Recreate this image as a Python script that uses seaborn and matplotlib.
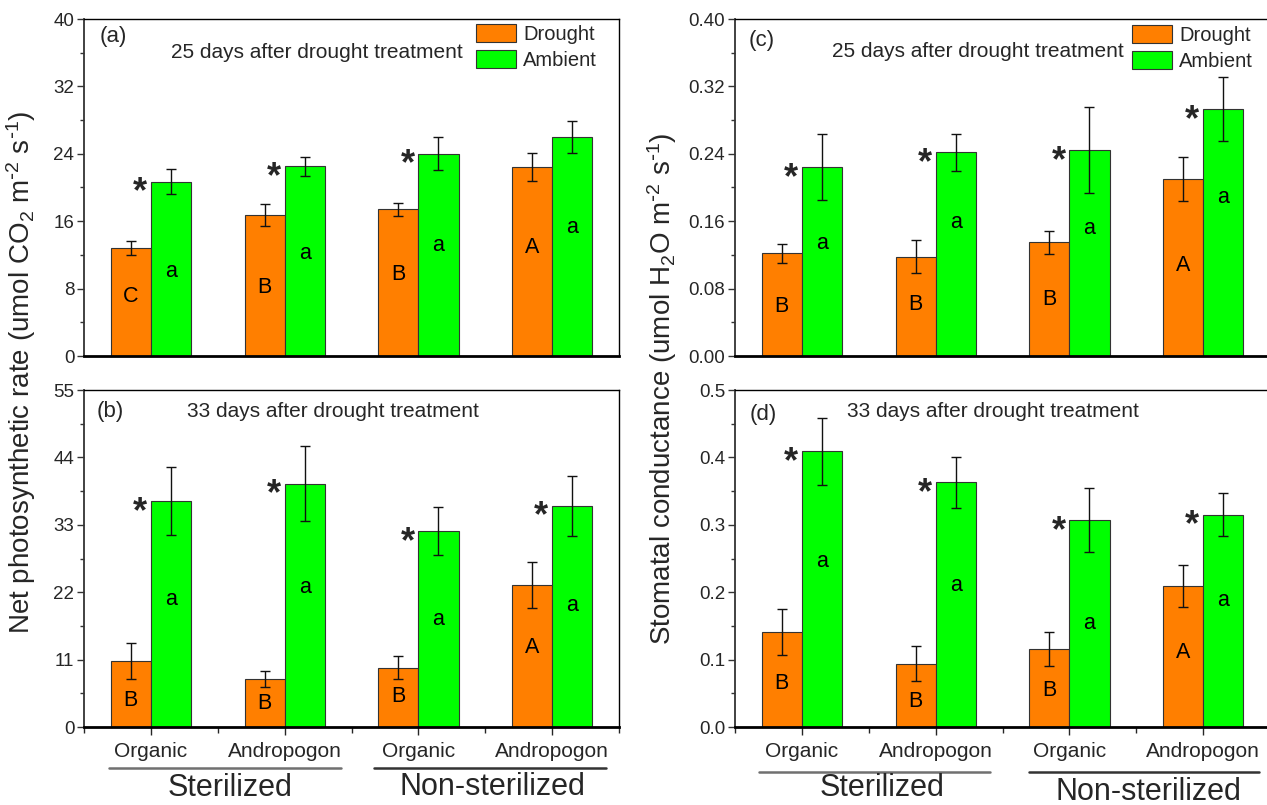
import numpy as np
import pandas as pd
import seaborn as sns
import matplotlib.pyplot as plt
from matplotlib.transforms import blended_transform_factory

# ---- data ----
groups = ["S-Organic", "S-Andropogon", "N-Organic", "N-Andropogon"]
tick_labels = ["Organic", "Andropogon", "Organic", "Andropogon"]
treatments = ["Drought", "Ambient"]

# (a) net photosynthetic rate, 25 days
a_drought = [12.8, 16.7, 17.4, 22.4]
a_drought_se = [0.85, 1.3, 0.8, 1.65]
a_ambient = [20.7, 22.5, 24.0, 26.0]
a_ambient_se = [1.5, 1.1, 1.95, 1.95]
a_letters = ["C", "B", "B", "A"]
a_stars = [True, True, True, False]

# (b) net photosynthetic rate, 33 days
b_drought = [10.8, 7.8, 9.7, 23.1]
b_drought_se = [2.9, 1.35, 1.85, 3.75]
b_ambient = [36.9, 39.7, 32.0, 36.1]
b_ambient_se = [5.5, 6.1, 3.9, 4.9]
b_letters = ["B", "B", "B", "A"]
b_stars = [True, True, True, True]

# (c) stomatal conductance, 25 days
c_drought = [0.122, 0.118, 0.135, 0.210]
c_drought_se = [0.0115, 0.020, 0.0135, 0.026]
c_ambient = [0.224, 0.242, 0.244, 0.293]
c_ambient_se = [0.039, 0.022, 0.051, 0.038]
c_letters = ["B", "B", "B", "A"]
c_stars = [True, True, True, True]

# (d) stomatal conductance, 33 days
d_drought = [0.141, 0.094, 0.116, 0.209]
d_drought_se = [0.0335, 0.026, 0.025, 0.031]
d_ambient = [0.409, 0.363, 0.307, 0.315]
d_ambient_se = [0.050, 0.038, 0.048, 0.032]
d_letters = ["B", "B", "B", "A"]
d_stars = [True, True, True, True]

# where the letters sit inside the bars (data units)
a_lab_y = ([7.1, 8.1, 9.7, 12.9], [10.0, 12.2, 13.1, 15.3])
b_lab_y = ([4.3, 3.8, 4.9, 12.9], [20.8, 22.7, 17.5, 19.9])
c_lab_y = ([0.059, 0.061, 0.067, 0.107], [0.134, 0.159, 0.151, 0.188])
d_lab_y = ([0.064, 0.038, 0.054, 0.110], [0.245, 0.210, 0.153, 0.187])

palette = {"Drought": "#FF7F00", "Ambient": "#00FF00"}

sns.set_theme(style="ticks")
plt.rcParams["font.family"] = ["Liberation Sans", "DejaVu Sans"]
plt.rcParams["mathtext.default"] = "regular"
plt.rcParams["axes.unicode_minus"] = False

fig = plt.figure(figsize=(12.67, 8.05), dpi=100)

LX, RX, W = 84 / 1267, 735 / 1267, 535 / 1267
TY, BY, H = 1 - 356 / 805, 1 - 727 / 805, 337 / 805


def panel(rect, drought, dse, ambient, ase, letters, stars, lab_y,
          ymax, ystep, fmt, tag, tag_pos, title, title_pos, bottom, legend_pos=None):
    ax = fig.add_axes(rect)
    df = pd.DataFrame({
        "group": groups * 2,
        "treatment": ["Drought"] * 4 + ["Ambient"] * 4,
        "value": list(drought) + list(ambient),
    })
    sns.barplot(data=df, x="group", y="value", hue="treatment", order=groups,
                hue_order=treatments, palette=palette, saturation=1, width=0.6,
                edgecolor="#333333", linewidth=0.8, errorbar=None,
                legend=legend_pos is not None, ax=ax)

    for cont, se in zip(ax.containers, [dse, ase]):
        xs = [b.get_x() + b.get_width() / 2 for b in cont]
        hs = [b.get_height() for b in cont]
        ax.errorbar(xs, hs, yerr=se, fmt="none", ecolor="#111111", elinewidth=1,
                    capsize=3.5, capthick=1, zorder=5)

    # letters inside bars
    for cont, labs, ys in zip(ax.containers, [letters, ["a"] * 4], lab_y):
        for b, lab, y in zip(cont, labs, ys):
            ax.text(b.get_x() + b.get_width() / 2, y, lab, ha="center",
                    va="center", fontsize=15.5, color="black")

    # significance stars
    for b, s in zip(ax.containers[1], stars):
        if s:
            ax.annotate("*", xy=(b.get_x() - 0.08, b.get_height()),
                        xytext=(0, -15), textcoords="offset points",
                        ha="center", va="baseline", fontsize=26, fontweight="bold")

    ax.set_xlim(-0.5, 3.5)
    ax.set_ylim(0, ymax)
    ticks = np.arange(0, ymax + ystep / 2, ystep)
    ax.set_yticks(ticks)
    ax.set_yticklabels([fmt.format(t) for t in ticks])
    ax.set_yticks(ticks[:-1] + ystep / 2, minor=True)
    ax.tick_params(axis="y", which="major", direction="out", length=5, width=1,
                   labelsize=13.5, pad=2, color="#333333")
    ax.tick_params(axis="y", which="minor", direction="out", length=3, width=1,
                   color="#333333")
    ax.set_xlabel("")
    ax.set_ylabel("")

    if bottom:
        ax.set_xticks(range(4))
        ax.set_xticklabels(tick_labels)
        ax.set_xticks(np.arange(-0.5, 4.0, 1.0), minor=True)
        ax.tick_params(axis="x", which="major", direction="out", length=6, width=1,
                       labelsize=15, pad=5)
        ax.tick_params(axis="x", which="minor", direction="out", length=4, width=1)
    else:
        ax.tick_params(axis="x", which="both", bottom=False, labelbottom=False)

    for side in ["top", "right"]:
        ax.spines[side].set_linewidth(1.0)
        ax.spines[side].set_color("black")
    ax.spines["left"].set_linewidth(1.3)
    ax.spines["left"].set_color("#333333")
    ax.spines["bottom"].set_linewidth(2.0)
    ax.spines["bottom"].set_color("black")

    ax.text(tag_pos[0], tag_pos[1], tag, transform=ax.transAxes, fontsize=16,
            ha="left", va="center")
    ax.text(title_pos[0], title_pos[1], title, transform=ax.transAxes,
            fontsize=15, ha="left", va="center")

    if legend_pos is not None:
        handles, labels = ax.get_legend_handles_labels()
        ax.legend(handles, labels, loc="upper left", bbox_to_anchor=legend_pos,
                  frameon=False, fontsize=14.5, borderpad=0, borderaxespad=0,
                  handlelength=2.0, handleheight=1.0, handletextpad=0.35,
                  labelspacing=0.28)
    return ax


ax_a = panel([LX, TY, W, H], a_drought, a_drought_se, a_ambient, a_ambient_se,
             a_letters, a_stars, a_lab_y, 40, 8, "{:.0f}", "(a)", (0.03, 0.949),
             "25 days after drought treatment", (0.163, 0.902), False,
             legend_pos=(0.732, 0.985))
ax_b = panel([LX, BY, W, H], b_drought, b_drought_se, b_ambient, b_ambient_se,
             b_letters, b_stars, b_lab_y, 55, 11, "{:.0f}", "(b)", (0.024, 0.935),
             "33 days after drought treatment", (0.193, 0.935), True)
ax_c = panel([RX, TY, W, H], c_drought, c_drought_se, c_ambient, c_ambient_se,
             c_letters, c_stars, c_lab_y, 0.40, 0.08, "{:.2f}", "(c)", (0.026, 0.935),
             "25 days after drought treatment", (0.181, 0.905), False,
             legend_pos=(0.742, 0.982))
ax_d = panel([RX, BY, W, H], d_drought, d_drought_se, d_ambient, d_ambient_se,
             d_letters, d_stars, d_lab_y, 0.5, 0.1, "{:.1f}", "(d)", (0.028, 0.926),
             "33 days after drought treatment", (0.209, 0.935), True)

# soil treatment brackets under the bottom panels
for ax, lines, texts in [
    (ax_b, [(-0.31, 1.42, -0.122), (1.67, 3.40, -0.122)],
     [(0.59, -0.181), (2.55, -0.178)]),
    (ax_d, [(-0.32, 1.41, -0.134), (1.70, 3.42, -0.134)],
     [(0.60, -0.181), (2.59, -0.193)]),
]:
    tr = blended_transform_factory(ax.transData, ax.transAxes)
    for (x0, x1, y), col in zip(lines, ["#707070", "#333333"]):
        ax.plot([x0, x1], [y, y], transform=tr, clip_on=False, color=col, lw=1.8)
    for (x, y), lab in zip(texts, ["Sterilized", "Non-sterilized"]):
        ax.text(x, y, lab, transform=tr, ha="center", va="center", fontsize=22)

fig.text(0.017, 0.538,
         r"Net photosynthetic rate (umol CO$_2$ m$^{\text{-}2}$ s$^{\text{-}1}$)",
         rotation=90, ha="center", va="center", fontsize=20)
fig.text(0.5225, 0.517,
         r"Stomatal conductance (umol H$_2$O m$^{\text{-}2}$ s$^{\text{-}1}$)",
         rotation=90, ha="center", va="center", fontsize=20)

fig.savefig("out.png", dpi=100)
